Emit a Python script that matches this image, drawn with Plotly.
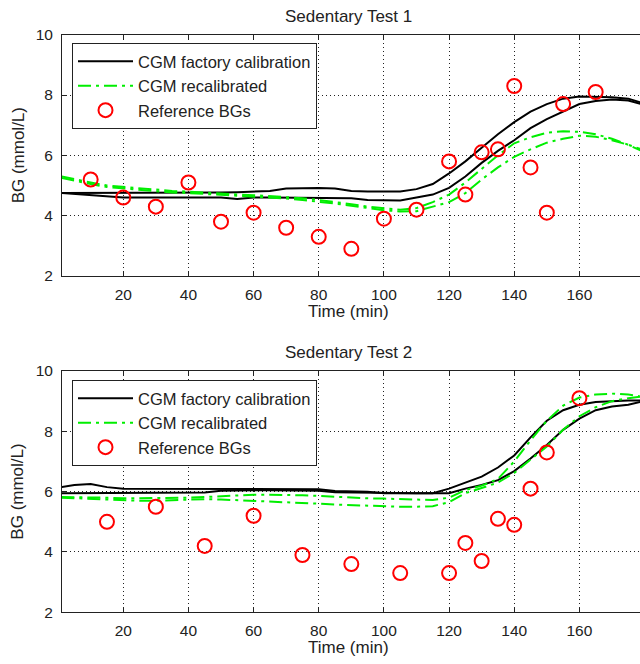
import plotly.graph_objects as go
from plotly.subplots import make_subplots

# ---------------- data ----------------
t_line = [1, 5, 10, 15, 20, 25, 30, 35, 40, 45, 50, 55, 60, 65, 70, 75, 80, 85, 90,
          95, 100, 105, 110, 115, 120, 125, 130, 135, 140, 145, 150, 155, 160, 165,
          170, 175, 179]

# Sedentary Test 1
t1_factory_a = [4.75, 4.75, 4.75, 4.75, 4.75, 4.75, 4.75, 4.75, 4.75, 4.76, 4.77, 4.78,
                4.80, 4.82, 4.90, 4.92, 4.92, 4.90, 4.82, 4.80, 4.80, 4.80, 4.88, 5.05,
                5.40, 5.80, 6.25, 6.70, 7.10, 7.45, 7.70, 7.88, 7.95, 7.95, 7.93, 7.88, 7.75]
t1_factory_b = [4.75, 4.72, 4.68, 4.62, 4.60, 4.60, 4.60, 4.60, 4.60, 4.60, 4.60, 4.55,
                4.60, 4.60, 4.60, 4.58, 4.58, 4.58, 4.58, 4.52, 4.50, 4.50, 4.60, 4.70,
                4.92, 5.30, 5.75, 6.15, 6.50, 6.90, 7.20, 7.45, 7.70, 7.80, 7.85, 7.82, 7.70]
t1_recal_a = [5.30, 5.20, 5.10, 5.00, 4.95, 4.90, 4.85, 4.82, 4.80, 4.76, 4.72, 4.70,
              4.68, 4.65, 4.62, 4.58, 4.52, 4.46, 4.38, 4.30, 4.24, 4.20, 4.25, 4.45,
              4.70, 5.10, 5.55, 6.00, 6.40, 6.60, 6.75, 6.80, 6.78, 6.70, 6.55, 6.35, 6.15]
t1_recal_b = [5.25, 5.15, 5.05, 4.95, 4.90, 4.85, 4.80, 4.77, 4.75, 4.72, 4.68, 4.66,
              4.64, 4.60, 4.57, 4.52, 4.47, 4.40, 4.33, 4.25, 4.18, 4.14, 4.15, 4.30,
              4.45, 4.75, 5.20, 5.60, 5.95, 6.20, 6.42, 6.55, 6.65, 6.62, 6.50, 6.35, 6.20]
t1_ref_t = [10, 20, 30, 40, 50, 60, 70, 80, 90, 100, 110, 120, 125, 130, 135, 140, 145,
            150, 155, 165]
t1_ref_bg = [5.2, 4.6, 4.3, 5.1, 3.8, 4.1, 3.6, 3.3, 2.9, 3.9, 4.2, 5.8, 4.7, 6.1, 6.2,
             8.3, 5.6, 4.1, 7.7, 8.1]

# Sedentary Test 2
t2_factory_a = [6.15, 6.22, 6.25, 6.15, 6.10, 6.10, 6.10, 6.10, 6.10, 6.10, 6.10, 6.10,
                6.10, 6.10, 6.10, 6.08, 6.08, 6.02, 6.00, 6.00, 5.95, 5.95, 5.95, 5.95,
                6.10, 6.30, 6.50, 6.80, 7.20, 7.80, 8.35, 8.70, 8.88, 8.97, 9.00, 9.02, 9.02]
t2_factory_b = [5.95, 5.95, 5.95, 5.95, 5.95, 5.95, 5.95, 5.95, 5.95, 5.97, 6.03, 6.05,
                6.05, 6.05, 6.05, 6.05, 6.03, 5.98, 5.97, 5.96, 5.95, 5.95, 5.95, 5.95,
                5.95, 6.10, 6.22, 6.38, 6.68, 7.10, 7.55, 8.05, 8.42, 8.70, 8.82, 8.88, 8.98]
t2_recal_a = [5.82, 5.82, 5.80, 5.80, 5.78, 5.78, 5.78, 5.78, 5.80, 5.82, 5.85, 5.88,
              5.90, 5.90, 5.90, 5.88, 5.86, 5.83, 5.80, 5.78, 5.77, 5.76, 5.75, 5.72,
              5.80, 6.05, 6.20, 6.42, 7.00, 7.70, 8.35, 8.85, 9.12, 9.22, 9.25, 9.22, 9.15]
t2_recal_b = [5.80, 5.78, 5.76, 5.75, 5.72, 5.70, 5.70, 5.72, 5.74, 5.75, 5.74, 5.72,
              5.70, 5.67, 5.65, 5.62, 5.60, 5.57, 5.55, 5.52, 5.50, 5.50, 5.50, 5.52,
              5.65, 5.95, 6.12, 6.30, 6.62, 7.05, 7.50, 8.05, 8.50, 8.80, 9.00, 9.10, 9.15]
t2_ref_t = [15, 30, 45, 60, 75, 90, 105, 120, 125, 130, 135, 140, 145, 150, 160]
t2_ref_bg = [5.0, 5.5, 4.2, 5.2, 3.9, 3.6, 3.3, 3.3, 4.3, 3.7, 5.1, 4.9, 6.1, 7.3, 9.1]

titles = ["Sedentary Test 1", "Sedentary Test 2"]
x_label = "Time (min)"
y_label = "BG (mmol/L)"
names = ["CGM factory calibration", "CGM recalibrated", "Reference BGs"]
x_ticks = [20, 40, 60, 80, 100, 120, 140, 160]
y_ticks = [2, 4, 6, 8, 10]

# ---------------- style ----------------
FONT = "Liberation Sans"
FS = 17
LFS = 16.5
TFS = 15.5
BLACK = "#000000"
GREEN = "#00ee00"
RED = "#ff0000"
TXT = "#222222"
W, H = 640, 664

fig = make_subplots(rows=2, cols=1)

panels = [
    (1, "legend", t1_factory_a, t1_factory_b, t1_recal_a, t1_recal_b, t1_ref_t, t1_ref_bg),
    (2, "legend2", t2_factory_a, t2_factory_b, t2_recal_a, t2_recal_b, t2_ref_t, t2_ref_bg),
]
for row, leg, fa, fb, ra, rb, rt, rbg in panels:
    for i, ys in enumerate([fa, fb]):
        fig.add_trace(go.Scatter(x=t_line, y=ys, mode="lines", name=names[0],
                                 line=dict(color=BLACK, width=2),
                                 showlegend=(i == 0), legend=leg), row=row, col=1)
    for i, ys in enumerate([ra, rb]):
        fig.add_trace(go.Scatter(x=t_line, y=ys, mode="lines", name=names[1],
                                 line=dict(color=GREEN, width=2, dash="13px,5px,3px,5px"),
                                 showlegend=(i == 0), legend=leg), row=row, col=1)
    fig.add_trace(go.Scatter(x=rt, y=rbg, mode="markers", name=names[2],
                             marker=dict(symbol="circle-open", size=14, color=RED,
                                         line=dict(color=RED, width=2)),
                             showlegend=True, legend=leg), row=row, col=1)

# pixel geometry
L, R = 62, 640
top_px = [(34.7, 276.0), (371.0, 612.3)]


def py(p):
    return (H - p) / H


axis_common = dict(showline=True, linecolor=TXT, linewidth=1, ticks="inside",
                   ticklen=5, tickcolor=TXT, showgrid=True, gridcolor=TXT,
                   gridwidth=1, griddash="1px,3px", zeroline=False,
                   tickfont=dict(family=FONT, size=TFS, color=TXT))

for k, (ytop, ybot) in enumerate(top_px):
    xa = "xaxis" if k == 0 else "xaxis2"
    ya = "yaxis" if k == 0 else "yaxis2"
    fig.layout[xa].update(range=[1.2, 178.6], tickvals=x_ticks, mirror="ticks",
                          domain=[0, 1], ticklabelstandoff=4, **axis_common)
    fig.layout[ya].update(range=[2, 10], tickvals=y_ticks, mirror=False,
                          domain=[py(ybot), py(ytop)], ticklabelstandoff=5, **axis_common)
    fig.add_annotation(text=titles[k], x=0.496, xref="paper", y=py(ytop - 18.5), yref="paper",
                       showarrow=False, font=dict(family=FONT, size=FS, color=TXT),
                       xanchor="center", yanchor="middle")
    fig.add_annotation(text=x_label, x=0.496, xref="paper", y=py(ybot + 35), yref="paper",
                       showarrow=False, font=dict(family=FONT, size=FS, color=TXT),
                       xanchor="center", yanchor="middle")
    fig.add_annotation(text=y_label, x=(18 - L) / (R - L), xref="paper",
                       y=py((ytop + ybot) / 2), yref="paper", textangle=-90,
                       showarrow=False, font=dict(family=FONT, size=FS, color=TXT),
                       xanchor="center", yanchor="middle")

legend_style = dict(bgcolor="white", bordercolor=TXT, borderwidth=1,
                    font=dict(family=FONT, size=LFS, color=TXT),
                    xanchor="left", yanchor="top", itemwidth=55, tracegroupgap=0)
fig.update_layout(
    width=W, height=H,
    margin=dict(l=L, r=W - R, t=0, b=0, autoexpand=False),
    plot_bgcolor="white", paper_bgcolor="white",
    legend=dict(x=(72 - L) / (R - L), y=py(43), **legend_style),
    legend2=dict(x=(72 - L) / (R - L), y=py(380), **legend_style),
)

fig.write_html("out.html", config={"displayModeBar": False},
               post_script="document.body.style.margin='0px';document.body.style.overflow='hidden';")
